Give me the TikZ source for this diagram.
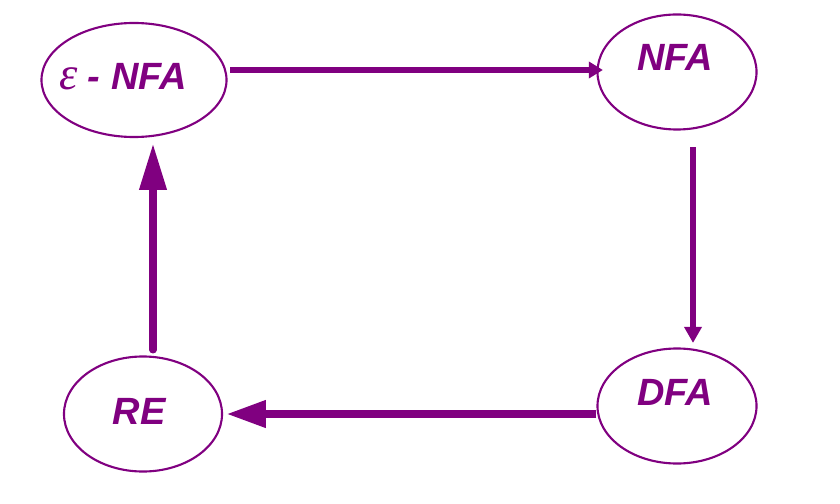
\documentclass[tikz,border=0pt]{standalone}
\usepackage{fontspec}
\setmainfont{Liberation Sans}
\newfontfamily\epsfont{Liberation Serif}
\usetikzlibrary{shapes.geometric,arrows.meta}
\definecolor{myPurple}{HTML}{800080}

\begin{document}
\begin{tikzpicture}[x=0.025cm, y=-0.025cm, myPurple]
  \tikzstyle{S}=[ellipse, draw=myPurple, line width=1.5pt, inner sep=0pt, minimum height=2.875cm]
  \tikzstyle{T}=[text=myPurple, anchor=base, font=\fontsize{27}{30}\selectfont\bfseries\itshape]
  \tikzstyle{A}=[draw=myPurple, -{Triangle[length=28pt,width=18.5pt]}, line width=5.2pt]
  \useasboundingbox (0,0) rectangle (840,504);

  \node[S, minimum width=4.625cm, minimum height=2.85cm] at (134,80) (enfa) {};
  \node[S, minimum width=3.975cm] at (677,72) (nfa) {};
  \node[S, minimum width=3.975cm] at (677,406) (dfa) {};
  \node[S, minimum width=3.95cm] at (143,414) (re) {};

  \node[T] at (123,90) (tenfa) {{\epsfont\fontsize{33}{36}\selectfont\mdseries\itshape ε} - NFA};
  \node[T] at (675,71) (tnfa) {NFA};
  \node[T] at (675,405) (tdfa) {DFA};
  \node[T] at (139,424) (tre) {RE};

  \coordinate (a1) at ([yshift=0.25cm]enfa.east);
  \coordinate (a2) at ([xshift=0.4cm]nfa.south);
  \coordinate (a3) at ([yshift=-0.2cm]dfa.west);
  \coordinate (a4) at ([xshift=0.25cm]re.north);

  \draw[A, line width=4.2pt, -{Triangle[length=10pt,width=11.4pt]}, shorten <=2pt, shorten >=-4.6pt] (a1) -- (a1 -| nfa.west);
  \draw[A, line width=3.6pt, -{Triangle[length=11.4pt,width=12pt]}, shorten <=11.7pt, shorten >=3.2pt] (a2) -- (a2 |- dfa.north);
  \draw[A, shorten >=2.5pt] (a3) -- (a3 -| re.east);
  \draw[A, line width=5pt, line cap=round, -{Triangle[length=33pt,width=18.5pt]}, shorten <=3.9pt, shorten >=3.9pt] (a4) -- (a4 |- enfa.south);
\end{tikzpicture}
\end{document}
